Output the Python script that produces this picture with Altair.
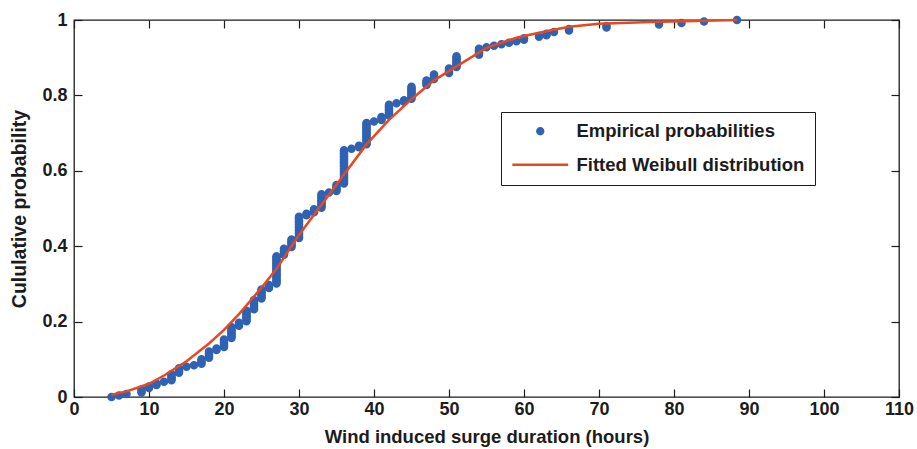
import altair as alt
import pandas as pd

# ---- data ----
# Empirical sample: distinct durations (hours) and how many events share each
durations = [5, 6, 7, 9, 10, 11, 12, 13, 14, 15, 16, 17, 18, 19, 20, 21, 22, 23,
             24, 25, 26, 27, 28, 29, 30, 31, 32, 33, 34, 35, 36, 37, 38, 39, 40,
             41, 42, 43, 44, 45, 47, 48, 50, 51, 54, 55, 56, 57, 58, 59, 60, 62,
             63, 64, 66, 71, 78, 81, 84, 88.4]
counts = [1, 1, 1, 3, 2, 2, 1, 5, 4, 1, 1, 4, 5, 2, 6, 8, 3, 8,
          7, 7, 3, 19, 5, 6, 15, 2, 3, 10, 1, 5, 23, 1, 2, 15, 1,
          3, 8, 1, 2, 9, 4, 4, 4, 8, 5, 1, 1, 1, 1, 1, 2, 1,
          2, 1, 2, 2, 1, 1, 1, 1]

# Fitted Weibull curve
fit_x = [5, 7, 10, 12, 15, 18, 20, 22, 25, 27, 30, 33, 36, 39, 42, 45, 48, 51,
         55, 59, 62, 66, 70, 77, 88.4]
fit_y = [0.006, 0.015, 0.035, 0.057, 0.095, 0.142, 0.178, 0.22, 0.29, 0.34,
         0.43, 0.51, 0.59, 0.67, 0.735, 0.79, 0.84, 0.877, 0.926, 0.953,
         0.966, 0.982, 0.99, 0.995, 1.0]

x_ticks = [0, 10, 20, 30, 40, 50, 60, 70, 80, 90, 100, 110]
y_ticks = [0, 0.2, 0.4, 0.6, 0.8, 1.0]

EMP = "Empirical probabilities"
FIT = "Fitted Weibull distribution"

# empirical CDF from the sample
n = sum(counts)
rows = []
rank = 0
for d, c in zip(durations, counts):
    for _ in range(c):
        rows.append({"duration": d, "prob": rank / (n - 1), "series": EMP})
        rank += 1
emp_df = pd.DataFrame(rows)
fit_df = pd.DataFrame({"duration": fit_x, "prob": fit_y, "series": [FIT] * len(fit_x)})

W, H = 825, 377
FONT = "Liberation Sans"
INK = "#1c1c1c"
BLUE = "#2F62B3"
RED = "#E8481E"

# symbol paths in unit space; legend size LSZ makes one unit = 9 px
LSZ = 324
DOT = "M-0.46,0A0.46,0.46,0,1,0,0.46,0A0.46,0.46,0,1,0,-0.46,0Z"
BAR = "M-3.1,-0.14L3.1,-0.14L3.1,0.14L-3.1,0.14Z"

xscale = alt.Scale(domain=[0, 110], nice=False, zero=False)
yscale = alt.Scale(domain=[0, 1], nice=False)
cscale = alt.Scale(domain=[EMP, FIT], range=[BLUE, RED])
sscale = alt.Scale(domain=[EMP, FIT], range=[DOT, BAR])

legend = alt.Legend(
    title=None, orient="none", legendX=427, legendY=92,
    strokeColor=INK, fillColor="white", padding=10, cornerRadius=0,
    labelFont=FONT, labelFontSize=18.5, labelFontWeight="bold", labelColor=INK,
    labelLimit=500, labelOffset=27, symbolOffset=20, rowPadding=14.5,
    symbolSize=LSZ, symbolStrokeWidth=0, symbolOpacity=1,
)

lab = dict(labelFont=FONT, labelFontSize=18, labelFontWeight="bold", labelColor=INK)

ax_bottom = alt.Axis(orient="bottom", values=x_ticks, ticks=False, tickSize=0,
                     grid=False, domain=False, labelPadding=3, labelFlush=False,
                     labelOverlap=False, format="d",
                     title="Wind induced surge duration (hours)", titlePadding=9,
                     titleFont=FONT, titleFontSize=18.5, titleFontWeight="bold",
                     titleColor=INK, **lab)
ax_left = alt.Axis(orient="left", values=y_ticks, ticks=False, tickSize=0,
                   grid=False, domain=False, labelPadding=7, labelFlush=False,
                   labelOverlap=False, format="~g",
                   title="Cululative probability", titlePadding=12,
                   titleFont=FONT, titleFontSize=19.5, titleFontWeight="bold",
                   titleColor=INK, **lab)
tick_kw = dict(labels=False, domain=False, ticks=True, tickSize=8, tickColor=INK,
               tickWidth=1.2, grid=False, title=None)
ax_tick_b = alt.Axis(orient="top", offset=-H, values=x_ticks, **tick_kw)
ax_tick_t = alt.Axis(orient="bottom", offset=-H, values=x_ticks, **tick_kw)
ax_tick_l = alt.Axis(orient="right", offset=-W, values=y_ticks, **tick_kw)
ax_tick_r = alt.Axis(orient="left", offset=-W, values=y_ticks, **tick_kw)

points = alt.Chart(emp_df).mark_point(filled=True, size=340, opacity=1).encode(
    x=alt.X("duration:Q", scale=xscale, axis=ax_bottom),
    y=alt.Y("prob:Q", scale=yscale, axis=ax_left),
    color=alt.Color("series:N", scale=cscale, legend=legend),
    shape=alt.Shape("series:N", scale=sscale, legend=legend),
)
line = alt.Chart(fit_df).mark_line(strokeWidth=2.5).encode(
    x=alt.X("duration:Q", scale=xscale, axis=ax_tick_b),
    y=alt.Y("prob:Q", scale=yscale, axis=ax_tick_l),
    color=alt.Color("series:N", scale=cscale, legend=legend),
)
frame = alt.Chart(fit_df).mark_line(opacity=0).encode(
    x=alt.X("duration:Q", scale=xscale, axis=ax_tick_t),
    y=alt.Y("prob:Q", scale=yscale, axis=ax_tick_r),
)

chart = alt.layer(points, line, frame).resolve_axis(
    x="independent", y="independent"
).properties(
    width=W, height=H,
    autosize=alt.AutoSizeParams(type="none"),
    padding={"left": 74, "top": 20, "right": 18, "bottom": 52},
    background="white",
).configure_view(stroke=INK, strokeWidth=1.3)

chart.save("out.html", embed_options={"renderer": "svg", "actions": False})
